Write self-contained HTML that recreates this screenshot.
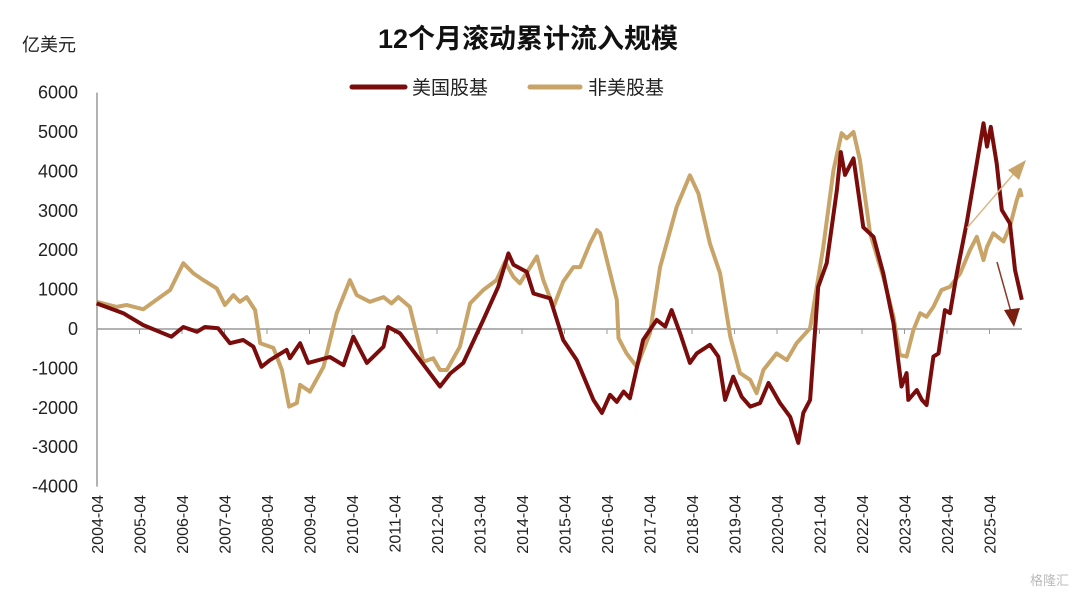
<!DOCTYPE html>
<html><head><meta charset="utf-8"><style>
body{margin:0;background:#fff;}
svg text{font-family:"Liberation Sans","Noto Sans CJK SC",sans-serif;}
</style></head><body>
<svg width="1080" height="599" viewBox="0 0 1080 599" xmlns="http://www.w3.org/2000/svg">
<text x="528" y="48" text-anchor="middle" font-size="27" font-weight="bold" fill="#111">12个月滚动累计流入规模</text>
<text x="22" y="51" font-size="18" fill="#222">亿美元</text>
<g>
<line x1="352" y1="87" x2="405" y2="87" stroke="#7a0c0c" stroke-width="5" stroke-linecap="round"/>
<text x="412" y="94" font-size="19" fill="#222">美国股基</text>
<line x1="530" y1="87" x2="580" y2="87" stroke="#c8a468" stroke-width="5" stroke-linecap="round"/>
<text x="588" y="94" font-size="19" fill="#222">非美股基</text>
</g>
<g id="axes"></g>
<g id="series"></g>
<g>
<line x1="967" y1="228" x2="1017" y2="170" stroke="#d8b888" stroke-width="1.5"/>
<polygon points="1026,160 1008,170 1019,180" fill="#c8a468"/>
<line x1="997" y1="262" x2="1011" y2="312" stroke="#8a3a2a" stroke-width="1.5"/>
<polygon points="1014,327 1004,310 1020,308" fill="#7a1f10"/>
</g>
<text x="1030" y="585" font-size="13" fill="#bbb">格隆汇</text>
</svg>
<script>
const yTicks=[6000,5000,4000,3000,2000,1000,0,-1000,-2000,-3000,-4000];
const xYears=[2004,2005,2006,2007,2008,2009,2010,2011,2012,2013,2014,2015,2016,2017,2018,2019,2020,2021,2022,2023,2024,2025];
const usDates=[2004.24,2004.87,2005.34,2006.0,2006.28,2006.6,2006.79,2007.1,2007.38,2007.69,2007.93,2008.12,2008.32,2008.71,2008.79,2009.03,2009.22,2009.73,2010.05,2010.28,2010.6,2010.99,2011.1,2011.38,2011.85,2012.32,2012.56,2012.87,2013.34,2013.69,2013.93,2014.05,2014.36,2014.52,2014.91,2015.22,2015.54,2015.93,2016.13,2016.32,2016.48,2016.64,2016.79,2017.1,2017.42,2017.62,2017.77,2017.97,2018.2,2018.36,2018.67,2018.87,2019.03,2019.22,2019.42,2019.62,2019.85,2020.05,2020.32,2020.56,2020.75,2020.87,2021.03,2021.22,2021.42,2021.66,2021.75,2021.85,2022.05,2022.28,2022.52,2022.75,2022.99,2023.18,2023.3,2023.34,2023.54,2023.66,2023.77,2023.93,2024.05,2024.2,2024.32,2024.48,2024.71,2024.91,2025.11,2025.19,2025.28,2025.42,2025.54,2025.73,2025.85,2026.01];
const usValues=[650,400,100,-195,50,-70,50,20,-360,-280,-450,-960,-790,-530,-740,-360,-860,-710,-920,-195,-860,-450,50,-110,-790,-1460,-1130,-860,230,1070,1920,1630,1450,900,780,-280,-790,-1800,-2130,-1670,-1850,-1590,-1760,-280,230,60,480,-110,-860,-620,-400,-700,-1800,-1210,-1720,-1970,-1880,-1370,-1880,-2230,-2890,-2130,-1800,1070,1670,3530,4490,3910,4330,2580,2340,1410,140,-1460,-1120,-1800,-1550,-1800,-1930,-700,-620,480,400,1410,2680,3950,5220,4630,5130,4200,3020,2680,1500,740];
const nonUsDates=[2004.24,2004.71,2004.95,2005.34,2005.65,2005.97,2006.28,2006.52,2006.75,2007.07,2007.26,2007.46,2007.61,2007.77,2007.97,2008.09,2008.4,2008.6,2008.77,2008.95,2009.03,2009.26,2009.58,2009.89,2010.2,2010.36,2010.67,2010.99,2011.18,2011.34,2011.61,2011.93,2012.16,2012.32,2012.48,2012.79,2013.03,2013.34,2013.65,2013.85,2014.05,2014.2,2014.6,2014.75,2014.99,2015.22,2015.46,2015.62,2015.85,2016.01,2016.09,2016.48,2016.52,2016.71,2016.95,2017.26,2017.5,2017.89,2018.2,2018.4,2018.67,2018.91,2019.15,2019.38,2019.62,2019.77,2019.93,2020.24,2020.48,2020.71,2021.03,2021.34,2021.58,2021.77,2021.89,2022.05,2022.2,2022.44,2022.75,2022.99,2023.14,2023.3,2023.46,2023.62,2023.77,2023.93,2024.12,2024.32,2024.56,2024.79,2024.95,2025.11,2025.19,2025.34,2025.58,2025.73,2025.89,2025.97,2026.01];
const nonUsValues=[690,560,610,500,740,990,1670,1410,1240,1030,610,860,690,810,480,-360,-480,-1040,-1970,-1880,-1420,-1590,-960,400,1240,860,690,810,650,810,560,-830,-740,-1040,-1040,-450,650,990,1240,1700,1320,1160,1840,1240,560,1200,1570,1570,2170,2510,2430,740,-230,-620,-960,-110,1570,3100,3900,3440,2170,1410,-195,-1120,-1290,-1630,-1040,-620,-790,-360,20,2080,4030,4970,4840,5000,4290,2430,1320,310,-660,-700,-25,400,310,560,990,1070,1410,2000,2340,1750,2080,2430,2220,2600,3270,3530,3350];
const X0=97,PX=42.5,Y0=329,PY=0.0394;
const sx=d=>X0+(d-2004.25)*PX;
const sy=v=>Y0-v*PY;
const NS='http://www.w3.org/2000/svg';
const axes=document.getElementById('axes');
function mk(tag,attrs,parent){const e=document.createElementNS(NS,tag);for(const k in attrs)e.setAttribute(k,attrs[k]);parent.appendChild(e);return e;}
const yAxis=mk('line',{x1:X0,y1:sy(6000),x2:X0,y2:sy(-4000),stroke:'#999','stroke-width':1.5},axes);


const zl=mk('line',{x1:X0,y1:Y0,x2:1022,y2:Y0,stroke:'#999','stroke-width':1.5},axes);


yTicks.forEach(v=>{
 const t=mk('text',{x:78,y:sy(v)+6,'text-anchor':'end','font-size':18,fill:'#222'},axes);
 t.textContent=v;
 
 
});
xYears.forEach(yr=>{
 const x=sx(yr+0.25);
 const tk=mk('line',{x1:x,y1:Y0,x2:x,y2:Y0+5,stroke:'#999','stroke-width':1},axes);
 
 
 const t=mk('text',{x:0,y:0,'font-size':16,fill:'#222','text-anchor':'end',transform:`translate(${x+6},495) rotate(-90)`},axes);
 t.textContent=yr+'-04';
 
 
});
const series=document.getElementById('series');
function path(dates,vals,color){return dates.map((d,i)=>(i?'L':'M')+sx(d).toFixed(1)+','+sy(vals[i]).toFixed(1)).join('');}
const pn=mk('path',{d:path(nonUsDates,nonUsValues),fill:'none',stroke:'#c8a468','stroke-width':4,'stroke-linejoin':'round'},series);


const pu=mk('path',{d:path(usDates,usValues),fill:'none',stroke:'#7a0c0c','stroke-width':4,'stroke-linejoin':'round'},series);


</script>
</body></html>
